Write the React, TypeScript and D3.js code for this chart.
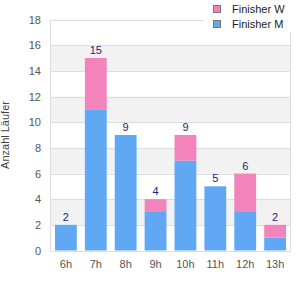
import React from "react";
import { scaleBand, scaleLinear, stack } from "d3";

const hours = ["6h", "7h", "8h", "9h", "10h", "11h", "12h", "13h"];
const finisherM = [2, 11, 9, 3, 7, 5, 3, 1];
const finisherW = [0, 4, 0, 1, 2, 0, 3, 1];
const yTicks = [0, 2, 4, 6, 8, 10, 12, 14, 16, 18];

const colors = { M: "#60a8f4", W: "#f283bb" };
const font = "Liberation Sans, Arial, sans-serif";

export default function App() {
  const width = 300;
  const height = 300;
  const left = 50.5;
  const right = 290.5;
  const top = 19.5;
  const bottom = 250.5;

  const x = scaleBand().domain(hours).range([left, right]).paddingInner(0.27).paddingOuter(0.15);
  const y = scaleLinear().domain([0, 18]).range([bottom, top]);

  const rows = hours.map((h, i) => ({ h, M: finisherM[i], W: finisherW[i] }));
  const series = stack().keys(["M", "W"])(rows as any);

  return (
    <svg width={width} height={height} style={{ position: "absolute", left: 0, top: 0 }}>
      <rect width={width} height={height} fill="#fff" />
      {yTicks.slice(0, -1).map((t, i) =>
        i % 2 === 1 ? (
          <rect key={"b" + t} x={left} y={y(t + 2)} width={right - left} height={y(t) - y(t + 2)} fill="#f2f2f2" />
        ) : null
      )}
      {yTicks.map((t) => (
        <line key={"g" + t} x1={left} x2={right} y1={Math.round(y(t)) + 0.5} y2={Math.round(y(t)) + 0.5} stroke="#ddd" />
      ))}
      <line x1={right} x2={right} y1={top} y2={bottom} stroke="#ddd" />
      <line x1={left} x2={left} y1={top} y2={bottom} stroke="#ddd" />
      {series.map((s) =>
        s.map((d, i) => (
          <rect
            key={s.key + i}
            x={x(hours[i])}
            y={y(d[1])}
            width={x.bandwidth()}
            height={y(d[0]) - y(d[1])}
            fill={colors[s.key as "M" | "W"]}
          />
        ))
      )}
      {hours.map((h, i) => (
        <text
          key={"v" + h}
          x={(x(h) as number) + x.bandwidth() / 2}
          y={y(finisherM[i] + finisherW[i]) - 4}
          textAnchor="middle"
          fontFamily={font}
          fontSize={11}
          fill="#1a1a8a"
        >
          {finisherM[i] + finisherW[i]}
        </text>
      ))}
      {yTicks.map((t) => (
        <text key={"y" + t} x={41} y={y(t) + 4} textAnchor="end" fontFamily={font} fontSize={11} fill="#555">
          {t}
        </text>
      ))}
      {hours.map((h) => (
        <text
          key={"x" + h}
          x={(x(h) as number) + x.bandwidth() / 2}
          y={268}
          textAnchor="middle"
          fontFamily={font}
          fontSize={11}
          fill="#555"
        >
          {h}
        </text>
      ))}
      <text
        transform={`translate(9,${(top + bottom) / 2}) rotate(-90)`}
        textAnchor="middle"
        fontFamily={font}
        fontSize={11}
        fill="#444"
      >
        Anzahl Läufer
      </text>
      <rect x={205} y={0} width={95} height={33} fill="#fff" />
      {[
        { label: "Finisher W", color: colors.W },
        { label: "Finisher M", color: colors.M },
      ].map((l, i) => (
        <g key={l.label} transform={`translate(213,${5 + i * 15})`}>
          <rect x={0.5} y={0.5} width={7} height={7} fill={l.color} stroke="#777" />
          <text x={19} y={8} fontFamily={font} fontSize={11} fill="#222">
            {l.label}
          </text>
        </g>
      ))}
    </svg>
  );
}
